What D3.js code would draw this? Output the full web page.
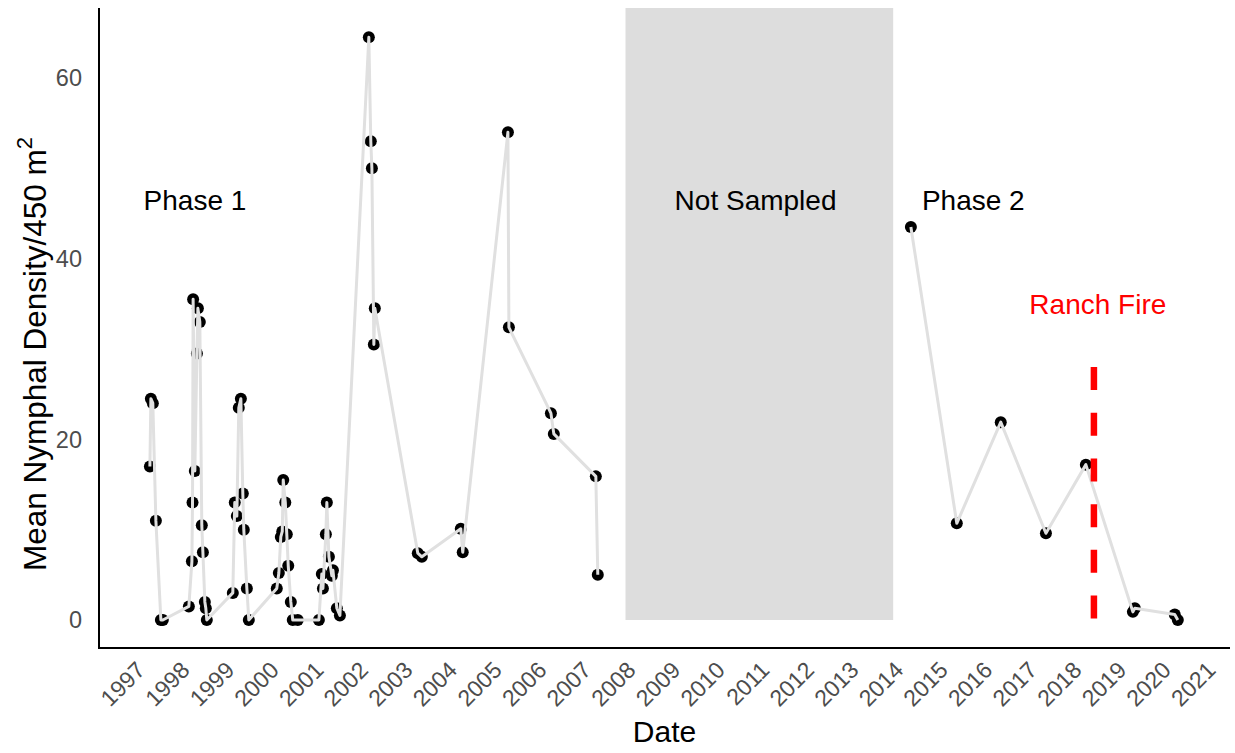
<!DOCTYPE html>
<html>
<head>
<meta charset="utf-8">
<script src="https://cdn.jsdelivr.net/npm/d3@7"></script>
<style>
  body { margin: 0; background: #fff; }
  text { font-family: "Liberation Sans", Arial, sans-serif; }
</style>
</head>
<body>
<svg id="chart" width="1235" height="753"></svg>
<script>
// phase 1 sampling, 1997-2007
const phase1Dates = [
  "1997-05-03", "1997-05-11", "1997-05-27", "1997-06-21", "1997-08-01", "1997-08-17",
  "1998-03-18", "1998-04-12", "1998-04-17", "1998-04-22", "1998-05-06", "1998-05-23",
  "1998-05-31", "1998-06-16", "1998-07-02", "1998-07-11", "1998-07-27", "1998-08-04", "1998-08-12",
  "1999-03-13", "1999-03-29", "1999-04-15", "1999-05-01", "1999-05-18", "1999-06-03",
  "1999-06-11", "1999-07-06", "1999-07-22",
  "2000-03-07", "2000-03-24", "2000-04-09", "2000-04-21", "2000-04-29", "2000-05-16",
  "2000-05-28", "2000-06-09", "2000-06-30", "2000-07-16", "2000-08-26",
  "2001-02-15", "2001-03-11", "2001-03-20", "2001-04-13", "2001-04-21", "2001-05-08",
  "2001-06-01", "2001-06-10", "2001-07-12", "2001-08-06",
  "2002-03-31", "2002-04-16", "2002-04-25", "2002-05-11", "2002-05-19",
  "2003-05-06", "2003-06-08",
  "2004-04-22", "2004-05-08",
  "2005-05-13", "2005-05-21",
  "2006-04-30", "2006-05-24",
  "2007-05-03", "2007-05-19"
]
const phase1Density = [
  17.0, 24.5, 24.0, 11.0, 0, 0,
  1.5, 6.5, 13.0, 35.5, 16.5, 29.5,
  34.5, 33.0, 10.5, 7.5, 2.0, 1.3, 0,
  3.0, 13.0, 11.5, 23.5, 24.5, 14.0,
  10.0, 3.5, 0,
  3.5, 5.2, 9.2, 9.8, 15.5, 13.0,
  9.5, 6.0, 2.0, 0, 0,
  0, 5.1, 3.5, 9.5, 13.0, 7.0,
  4.9, 5.5, 1.3, 0.5,
  64.5, 53.0, 50.0, 30.5, 34.5,
  7.4, 7.0,
  10.1, 7.5,
  54.0, 32.4,
  22.9, 20.6,
  15.9, 5.0
]

// phase 2 sampling, 2014-2020
const phase2Dates = [
  "2014-05-26", "2015-06-06", "2016-05-31", "2017-06-05", "2018-04-28",
  "2019-05-18", "2019-06-03", "2020-04-25", "2020-05-20"
]
const phase2Density = [43.5, 10.7, 21.9, 9.6, 17.2, 0.9, 1.3, 0.6, 0]

const yearTicks = [1997, 1998, 1999, 2000, 2001, 2002, 2003, 2004, 2005, 2006, 2007, 2008,
  2009, 2010, 2011, 2012, 2013, 2014, 2015, 2016, 2017, 2018, 2019, 2020, 2021]
const yTicks = [0, 20, 40, 60]

const notSampled = ["2008-01-01", "2014-01-01"]
const fireDate = "2018-07-03"
const fireRange = [0, 28]

const noteText = ["Phase 1", "Not Sampled", "Phase 2", "Ranch Fire"]
const noteDates = ["1998-05-07", "2010-12-01", "2015-10-19", "2018-08-04"]
const noteValues = [46.5, 46.5, 46.5, 35]
const noteColors = ["#000", "#000", "#000", "#ff0000"]

const parse = d3.utcParse("%Y-%m-%d")
const yearDate = yr => new Date(Date.UTC(yr, 0, 1))

const svg = d3.select("#chart")
const panel = { left: 99, right: 1230, top: 8, bottom: 648 }

const x = d3.scaleUtc()
  .domain([yearDate(1997), yearDate(2021)])
  .range([135, 1205.4])

const y = d3.scaleLinear()
  .domain([0, 60])
  .range([620, 78])

const phases = [
  phase1Dates.map((d, i) => ({ date: parse(d), value: phase1Density[i] })),
  phase2Dates.map((d, i) => ({ date: parse(d), value: phase2Density[i] }))
]

// not sampled band
svg.append("rect")
  .attr("x", x(parse(notSampled[0])))
  .attr("width", x(parse(notSampled[1])) - x(parse(notSampled[0])))
  .attr("y", panel.top)
  .attr("height", y(0) - panel.top)
  .attr("fill", "#dddddd")

// points first, the line sits on top of them
svg.append("g")
  .selectAll("circle")
  .data(phases.flat())
  .join("circle")
  .attr("cx", d => x(d.date))
  .attr("cy", d => y(d.value))
  .attr("r", 6)
  .attr("fill", "#000")

const line = d3.line()
  .x(d => x(d.date))
  .y(d => y(d.value))

svg.append("g")
  .selectAll("path")
  .data(phases)
  .join("path")
  .attr("d", line)
  .attr("fill", "none")
  .attr("stroke", "#e0e0e0")
  .attr("stroke-width", 3)
  .attr("stroke-linejoin", "round")

// ranch fire marker
svg.append("line")
  .attr("x1", x(parse(fireDate)))
  .attr("x2", x(parse(fireDate)))
  .attr("y1", y(fireRange[1]))
  .attr("y2", y(fireRange[0]))
  .attr("stroke", "#ff0000")
  .attr("stroke-width", 6.5)
  .attr("stroke-dasharray", "23,22.7")

// annotations
svg.append("g")
  .selectAll("text")
  .data(noteText)
  .join("text")
  .attr("x", (d, i) => x(parse(noteDates[i])))
  .attr("y", (d, i) => y(noteValues[i]))
  .attr("dy", "0.35em")
  .attr("text-anchor", "middle")
  .attr("font-size", 28)
  .attr("fill", (d, i) => noteColors[i])
  .text(d => d)

// axes (theme_classic style: lines only, no ticks)
svg.append("line")
  .attr("x1", panel.left).attr("x2", panel.left)
  .attr("y1", panel.top).attr("y2", panel.bottom + 1)
  .attr("stroke", "#000").attr("stroke-width", 2)
svg.append("line")
  .attr("x1", panel.left - 1).attr("x2", panel.right)
  .attr("y1", panel.bottom).attr("y2", panel.bottom)
  .attr("stroke", "#000").attr("stroke-width", 2)

svg.append("g")
  .selectAll("text")
  .data(yTicks)
  .join("text")
  .attr("x", 82)
  .attr("y", d => y(d))
  .attr("dy", "0.35em")
  .attr("text-anchor", "end")
  .attr("font-size", 23.5)
  .attr("fill", "#4d4d4d")
  .text(d => d)

svg.append("g")
  .selectAll("text")
  .data(yearTicks)
  .join("text")
  .attr("transform", d => `translate(${x(yearDate(d))},660) rotate(-45)`)
  .attr("dy", "0.71em")
  .attr("text-anchor", "end")
  .attr("font-size", 23)
  .attr("fill", "#4d4d4d")
  .text(d => d)

// axis titles
svg.append("text")
  .attr("x", (panel.left + panel.right) / 2)
  .attr("y", 742)
  .attr("text-anchor", "middle")
  .attr("font-size", 30)
  .text("Date")

const ytitle = svg.append("text")
  .attr("transform", `translate(46,354) rotate(-90)`)
  .attr("text-anchor", "middle")
  .attr("font-size", 31.5)
ytitle.append("tspan").text("Mean Nymphal Density/450 m")
ytitle.append("tspan")
  .attr("font-size", 22)
  .attr("dy", -14)
  .text("2")
</script>
</body>
</html>
